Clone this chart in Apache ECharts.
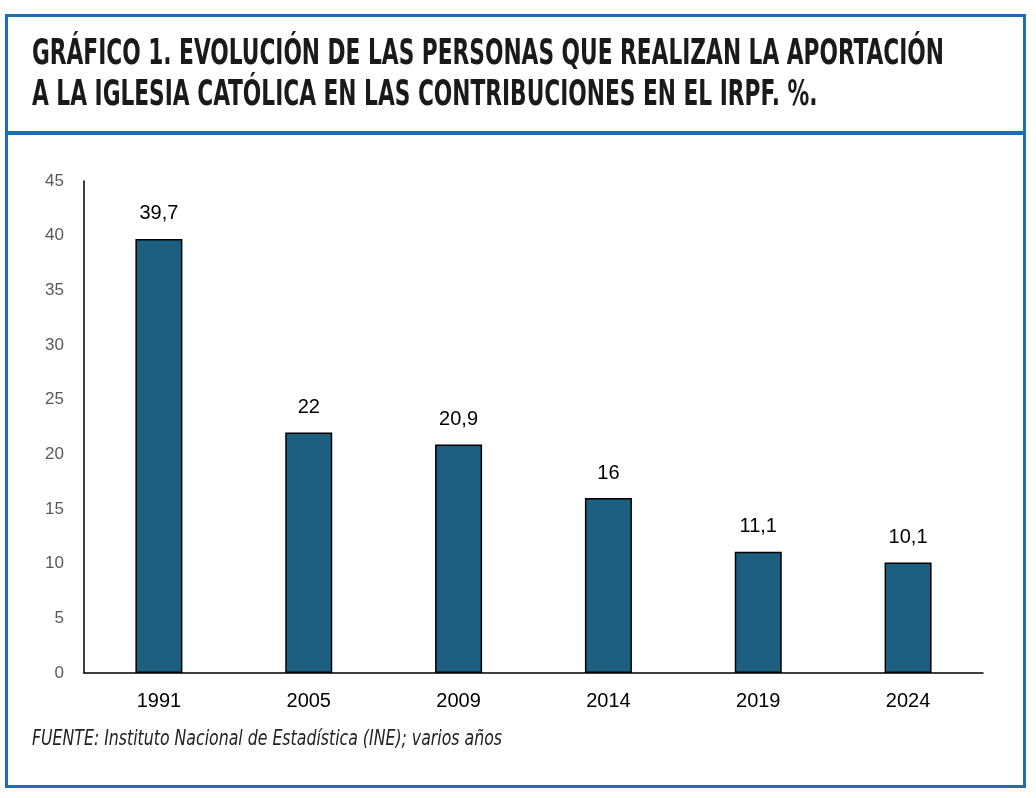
<!DOCTYPE html>
<html><head><meta charset="utf-8">
<script src="https://cdn.jsdelivr.net/npm/echarts@6/dist/echarts.min.js"></script>
<style>html,body{margin:0;padding:0;background:#fff}#c{width:1036px;height:798px}</style>
</head><body><div id="c"></div>
<script>
const categories = ['1991','2005','2009','2014','2019','2024'];
const values = [39.7, 22, 20.9, 16, 11.1, 10.1];
const titleLines = ['GRÁFICO 1. EVOLUCIÓN DE LAS PERSONAS QUE REALIZAN LA APORTACIÓN','A LA IGLESIA CATÓLICA EN LAS CONTRIBUCIONES EN EL IRPF. %.'];
const sourceText = 'FUENTE: Instituto Nacional de Estadística (INE); varios años';

const titleFont = 'bold 36px "Liberation Sans Narrow", "DejaVu Sans Condensed", sans-serif';
const srcFont = 'italic 21px "Liberation Sans Narrow", "DejaVu Sans Condensed", sans-serif';
const cv = document.createElement('canvas').getContext('2d');
function w(t,f){cv.font=f;return cv.measureText(t).width;}
const tScale = 912 / w(titleLines[0], titleFont);
const sScale = 470 / w(sourceText, srcFont);
const ff = '"Liberation Sans", Arial, sans-serif';

const chart = echarts.init(document.getElementById('c'));
chart.setOption({
  animation:false,
  backgroundColor:'#fff',
  grid:{left:84,right:53,top:181,bottom:125},
  xAxis:{type:'category',data:categories,
    axisLine:{lineStyle:{color:'#000',width:1.5}},axisTick:{show:false},
    axisLabel:{color:'#000',fontSize:20,margin:18,fontFamily:ff}},
  yAxis:{type:'value',min:0,max:45,interval:5,
    axisLine:{show:true,lineStyle:{color:'#000',width:1.5}},axisTick:{show:false},
    splitLine:{show:false},
    axisLabel:{color:'#595959',fontSize:17,margin:20,fontFamily:ff}},
  series:[{type:'bar',data:values,barWidth:47,
    itemStyle:{color:'#1d5f80',borderColor:'#000',borderWidth:1.5},
    label:{show:true,position:'top',distance:15,color:'#000',fontSize:20,fontFamily:ff,
      formatter:p=>String(p.value).replace('.',',')}}],
  graphic:[
    {type:'rect',shape:{x:6.5,y:15.5,width:1018,height:771},style:{fill:null,stroke:'#1b6fae',lineWidth:3},silent:true},
    {type:'line',shape:{x1:6,y1:133,x2:1025,y2:133},style:{stroke:'#1b6fae',lineWidth:4},silent:true},
    {type:'text',x:32,y:55,scaleX:tScale,style:{text:titleLines[0],font:titleFont,fill:'#1a1a1a',textVerticalAlign:'middle',verticalAlign:'middle'}},
    {type:'text',x:32,y:96,scaleX:tScale,style:{text:titleLines[1],font:titleFont,fill:'#1a1a1a',textVerticalAlign:'middle',verticalAlign:'middle'}},
    {type:'text',x:32,y:740,scaleX:sScale,style:{text:sourceText,font:srcFont,fill:'#222',textVerticalAlign:'middle',verticalAlign:'middle'}}
  ]
});
</script></body></html>
